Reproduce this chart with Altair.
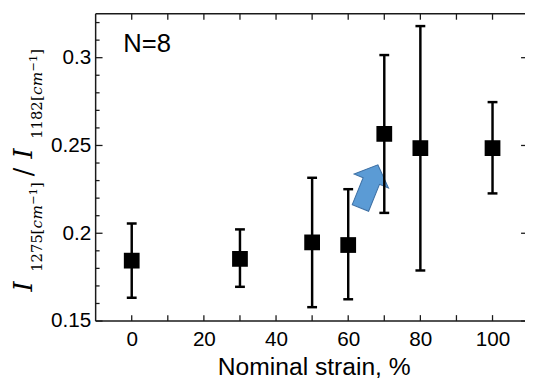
import altair as alt
import pandas as pd

# ---- data ----
strain = [0, 30, 50, 60, 70, 80, 100]
ratio = [0.1844, 0.1854, 0.1948, 0.1933, 0.2566, 0.2485, 0.2485]
err_hi = [0.2055, 0.2022, 0.2316, 0.2251, 0.3015, 0.3180, 0.2747]
err_lo = [0.1633, 0.1695, 0.1579, 0.1624, 0.2116, 0.1788, 0.2227]

x_tick_vals = [0, 10, 20, 30, 40, 50, 60, 70, 80, 90, 100]
x_label_vals = [0, 20, 40, 60, 80, 100]
y_major_vals = [0.15, 0.2, 0.25, 0.3]
y_minor_vals = [0.16, 0.17, 0.18, 0.19, 0.21, 0.22, 0.23, 0.24,
                0.26, 0.27, 0.28, 0.29, 0.31, 0.32]

arrow_x = [65.8]
arrow_y = [0.2267]

x_title = "Nominal strain, %"
n_label = "N=8"

df = pd.DataFrame({"strain": strain, "ratio": ratio, "hi": err_hi, "lo": err_lo})
df_xt = pd.DataFrame({"v": x_tick_vals})
df_ymaj = pd.DataFrame({"v": y_major_vals})
df_ymin = pd.DataFrame({"v": y_minor_vals})
df_arrow = pd.DataFrame({"x": arrow_x, "y": arrow_y})
one = pd.DataFrame({"k": [0]})

W, H = 436, 312
xs = alt.Scale(domain=[-10, 109], nice=False, zero=False)
ys = alt.Scale(domain=[0.15, 0.325], nice=False, zero=False)
SANS = "Liberation Sans"
SERIF = "DejaVu Serif"
LINE = "#1a1a1a"

x_axis = alt.Axis(values=x_label_vals, ticks=False, domain=False, grid=False, title=None,
                  labelFont=SANS, labelFontSize=21, labelColor="black",
                  labelPadding=25, labelBaseline="alphabetic", labelFlush=False)
y_axis = alt.Axis(values=y_major_vals, ticks=False, domain=False, grid=False, title=None,
                  labelFont=SANS, labelFontSize=21, labelColor="black", format=".2~f",
                  labelPadding=5, labelAlign="right", labelBaseline="middle", labelFlush=False)

# arrow annotation (block arrow, custom symbol path)
arrow_path = "M0,-1L0.8,-0.25L0.38,-0.25L0.38,1L-0.38,1L-0.38,-0.25L-0.8,-0.25Z"
arrow = alt.Chart(df_arrow).mark_point(
    shape=arrow_path, filled=True, size=2228, angle=22, color="#5b9bd5",
    fill="#5b9bd5", stroke="#3d6fa3", strokeWidth=1, opacity=1
).encode(x=alt.X("x:Q", scale=xs), y=alt.Y("y:Q", scale=ys))

bars = alt.Chart(df).mark_rule(color="black", strokeWidth=2.5).encode(
    x=alt.X("strain:Q", scale=xs), y=alt.Y("lo:Q", scale=ys), y2="hi:Q")
cap_hi = alt.Chart(df).mark_tick(orient="horizontal", size=10, thickness=2.5, color="black", opacity=1).encode(
    x=alt.X("strain:Q", scale=xs), y=alt.Y("hi:Q", scale=ys))
cap_lo = alt.Chart(df).mark_tick(orient="horizontal", size=10, thickness=2.5, color="black", opacity=1).encode(
    x=alt.X("strain:Q", scale=xs), y=alt.Y("lo:Q", scale=ys))
squares = alt.Chart(df).mark_point(shape="square", filled=True, size=256, color="black", opacity=1).encode(
    x=alt.X("strain:Q", scale=xs, axis=x_axis), y=alt.Y("ratio:Q", scale=ys, axis=y_axis))

# frame (left, top, bottom)
frame_l = alt.Chart(one).mark_rule(color=LINE, strokeWidth=1.5).encode(
    x=alt.value(0), y=alt.value(0), y2=alt.value(H))
frame_t = alt.Chart(one).mark_rule(color=LINE, strokeWidth=1.5).encode(
    x=alt.value(0), x2=alt.value(W), y=alt.value(0))
frame_b = alt.Chart(one).mark_rule(color=LINE, strokeWidth=1.5).encode(
    x=alt.value(0), x2=alt.value(W), y=alt.value(H))

# inward ticks
tk = dict(color=LINE, strokeWidth=1.3)
xt_b = alt.Chart(df_xt).mark_rule(**tk).encode(x=alt.X("v:Q", scale=xs), y=alt.value(H), y2=alt.value(H - 6))
xt_t = alt.Chart(df_xt).mark_rule(**tk).encode(x=alt.X("v:Q", scale=xs), y=alt.value(0), y2=alt.value(6))
yt_lmaj = alt.Chart(df_ymaj).mark_rule(**tk).encode(y=alt.Y("v:Q", scale=ys), x=alt.value(0), x2=alt.value(7))
yt_lmin = alt.Chart(df_ymin).mark_rule(**tk).encode(y=alt.Y("v:Q", scale=ys), x=alt.value(0), x2=alt.value(4))
yt_rmaj = alt.Chart(df_ymaj).mark_rule(**tk).encode(y=alt.Y("v:Q", scale=ys), x=alt.value(W), x2=alt.value(W - 4))

# texts
n_text = alt.Chart(one).mark_text(font=SANS, fontSize=26, align="left", baseline="alphabetic", color="black").encode(
    x=alt.value(28), y=alt.value(39), text=alt.value(n_label))
xt_text = alt.Chart(one).mark_text(font=SANS, fontSize=25, align="center", baseline="alphabetic", color="black").encode(
    x=alt.value(222), y=alt.value(367), text=alt.value(x_title))

# y title built from pieces (rotated, reads bottom -> top)
OX, OY = 97, 11
pieces = [
    ("I", 293, 32, 26, "italic"),
    ("1275", 273, 43, 15, "normal"),
    ("[", 235, 43, 15, "normal"),
    ("c", 229, 43, 15.5, "italic"),
    ("m", 220, 43, 15.5, "italic"),
    ("\u22121", 205, 37.5, 11.5, "normal"),
    ("]", 188, 43, 15, "normal"),
    ("/", 176, 32, 26, "normal"),
    ("I", 158, 32, 26, "italic"),
    ("1182", 138, 43, 15, "normal"),
    ("[", 99.5, 43, 15, "normal"),
    ("c", 93.5, 43, 15.5, "italic"),
    ("m", 84.5, 43, 15.5, "italic"),
    ("\u22121", 69.5, 37.5, 11.5, "normal"),
    ("]", 52.5, 43, 15, "normal"),
]
title_layers = []
for txt, sy, bx, fs, st in pieces:
    title_layers.append(
        alt.Chart(one).mark_text(font=SERIF, fontSize=fs, fontStyle=st, angle=270,
                                 align="left", baseline="alphabetic", color="black").encode(
            x=alt.value(bx - OX), y=alt.value(sy - OY), text=alt.value(txt))
    )

chart = alt.layer(
    arrow, bars, cap_hi, cap_lo, squares,
    frame_l, frame_t, frame_b, xt_b, xt_t, yt_lmaj, yt_lmin, yt_rmaj,
    n_text, xt_text, *title_layers
).properties(
    width=W, height=H,
    autosize=alt.AutoSizeParams(type="none"),
    padding={"left": 89, "top": 3, "right": 0, "bottom": 58},
    background="white",
).configure_view(stroke=None)

chart.save("out.html", embed_options={"renderer": "svg", "actions": False})
